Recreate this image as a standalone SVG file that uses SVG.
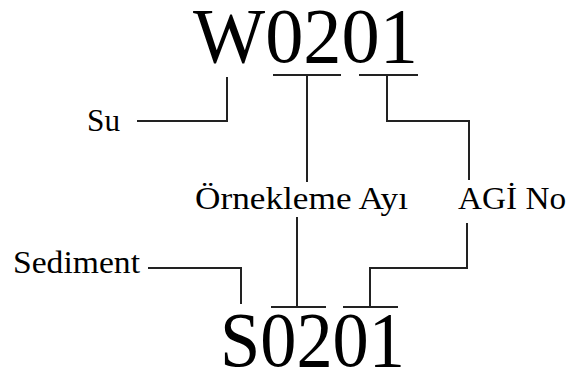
<svg xmlns="http://www.w3.org/2000/svg" width="568" height="374" viewBox="0 0 568 374">
<style>
.big{font-family:"Liberation Serif","Times New Roman",serif;font-size:78px;fill:#000}
.lbl{font-family:"Liberation Serif","Times New Roman",serif;font-size:32px;fill:#000}
.ln{fill:none;stroke:#222;stroke-width:2}
</style>
<rect width="568" height="374" fill="#fff"/>
<g id="code-top"><text class="big" x="193" y="62" textLength="225" lengthAdjust="spacingAndGlyphs">W0201</text></g>
<g id="code-bottom"><text class="big" x="220" y="366" textLength="185" lengthAdjust="spacingAndGlyphs">S0201</text></g>
<g id="label-su"><text class="lbl" x="87" y="131" textLength="33" lengthAdjust="spacingAndGlyphs">Su</text></g>
<g id="label-sediment"><text class="lbl" x="13" y="273" textLength="127" lengthAdjust="spacingAndGlyphs">Sediment</text></g>
<g id="label-ay"><text class="lbl" x="195" y="209" textLength="213" lengthAdjust="spacingAndGlyphs">Örnekleme Ayı</text></g>
<g id="label-agi"><text class="lbl" x="458" y="209" textLength="108" lengthAdjust="spacingAndGlyphs">AGİ No</text></g>
<g id="connectors">
<path class="ln" d="M137 121H227V77"/>
<path class="ln" d="M273 75H341M307 75V182"/>
<path class="ln" d="M359 75H418M387 75V121H469V180"/>
<path class="ln" d="M148 268H241V304"/>
<path class="ln" d="M271 307H326M297 217V307"/>
<path class="ln" d="M343 307H398M370 307V268H467V223"/>
</g>
</svg>
